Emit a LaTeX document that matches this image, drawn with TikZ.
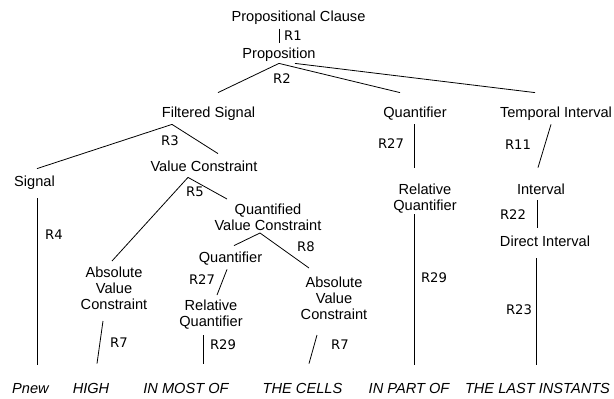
\documentclass[tikz,border=0pt]{standalone}
\usepackage{fontspec}
\setmainfont{Liberation Sans}
\newfontfamily\rulefont{DejaVu Sans}

\begin{document}
\begin{tikzpicture}[x=1pt, y=-1pt, line width=0.8pt,
    cat/.style={inner sep=0pt, text height=10.5pt, text depth=3pt, font=\fontsize{14.6}{16}\selectfont},
    cat2/.style={inner sep=0pt, align=center, font=\fontsize{14.6}{16}\selectfont},
    leaf/.style={cat, font=\fontsize{14.6}{16}\selectfont\itshape},
    rule/.style={inner sep=0pt, font=\rulefont\fontsize{13.2}{15}\selectfont}]
    \useasboundingbox (0,0) rectangle (614,399);
    % categories
    \node[cat] (pc) at (298.5,17.5) {Propositional Clause};
    \node[cat] (prop) at (279,54.5) {Proposition};
    \node[cat] (fsig) at (208.5,113.5) {Filtered Signal};
    \node[cat] (quant) at (415,113.5) {Quantifier};
    \node[cat] (tint) at (556,113.5) {Temporal Interval};
    \node[cat] (sig) at (34.5,182.5) {Signal};
    \node[cat] (vcon) at (204,168) {Value Constraint};
    \node[cat2] (rquant) at (425,199) {Relative\\Quantifier};
    \node[cat] (intv) at (541,191) {Interval};
    \node[cat2] (qvc) at (268,217) {Quantified\\Value Constraint};
    \node[cat] (dint) at (545,243) {Direct Interval};
    \node[cat] (quant2) at (230.5,258.5) {Quantifier};
    \node[cat2] (avc1) at (114,288) {Absolute\\Value\\Constraint};
    \node[cat2] (rquant2) at (211,315) {Relative\\Quantifier};
    \node[cat2] (avc2) at (334,298) {Absolute\\Value\\Constraint};
    % words
    \node[leaf] (pnew) at (30.5,389.5) {Pnew};
    \node[leaf] (high) at (91,389.5) {HIGH};
    \node[leaf] (most) at (186,389.5) {IN MOST OF};
    \node[leaf] (cells) at (302.5,389.5) {THE CELLS};
    \node[leaf] (part) at (409,389.5) {IN PART OF};
    \node[leaf] (last) at (537.5,389.5) {THE LAST INSTANTS};
    % rules
    \draw ([shift={(-19.5,4)}]pc.south) -- ([shift={(0,-4.5)}]prop.north);
    \draw ([shift={(0,1.75)}]prop.south) -- ([shift={(9.5,-13.75)}]fsig.north);
    \draw ([shift={(0,1.75)}]prop.south) -- ([shift={(-15,-13.75)}]quant.north);
    \draw ([shift={(16,1.75)}]prop.south) -- ([shift={(-21,-13.75)}]tint.north);
    \draw ([shift={(-36.5,3.75)}]fsig.south) -- ([shift={(2.5,-6.75)}]sig.north);
    \draw ([shift={(-36.5,3.75)}]fsig.south) -- ([shift={(14,-7.25)}]vcon.north);
    \draw ([shift={(-1,3.75)}]quant.south) -- ([shift={(-11,-31)}]rquant.center);
    \draw ([shift={(-5,3.75)}]tint.south) -- ([shift={(-3,-16.25)}]intv.north);
    \draw ([shift={(-16,2.25)}]vcon.south) -- ([shift={(-2,-27)}]avc1.center);
    \draw ([shift={(-16,2.25)}]vcon.south) -- ([shift={(-41,-18)}]qvc.center);
    \draw ([shift={(2.5,8.75)}]sig.south) -- ([shift={(6.5,-17.75)}]pnew.north);
    \draw ([shift={(-4,2.25)}]intv.south) -- ([shift={(-8,-8.25)}]dint.north);
    \draw ([shift={(-11,15)}]rquant.center) -- ([shift={(5,-17.75)}]part.north);
    \draw ([shift={(-9,8.25)}]dint.south) -- ([shift={(-1.5,-17.75)}]last.north);
    \draw ([shift={(-8,16)}]qvc.center) -- ([shift={(3.5,-5.75)}]quant2.north);
    \draw ([shift={(-8,16)}]qvc.center) -- ([shift={(-25,-30)}]avc2.center);
    \draw ([shift={(-3.5,3.75)}]quant2.south) -- ([shift={(6,-20)}]rquant2.center);
    \draw ([shift={(-11,33)}]avc1.center) -- ([shift={(6,-18.75)}]high.north);
    \draw ([shift={(-8,20)}]rquant2.center) -- ([shift={(17,-18.75)}]most.north);
    \draw ([shift={(-17,37)}]avc2.center) -- ([shift={(6.5,-18.75)}]cells.north);
    % rule labels
    \node[rule] (r1) at (293,36) {R1};
    \node[rule] (r2) at (282,79) {R2};
    \node[rule] (r3) at (170,141) {R3};
    \node[rule] (r27a) at (391,144) {R27};
    \node[rule] (r11) at (518,145) {R11};
    \node[rule] (r5) at (195,192) {R5};
    \node[rule] (r4) at (54,235) {R4};
    \node[rule] (r22) at (513,215) {R22};
    \node[rule] (r8) at (306,247) {R8};
    \node[rule] (r27b) at (202,280) {R27};
    \node[rule] (r29a) at (434,278) {R29};
    \node[rule] (r23) at (519,310) {R23};
    \node[rule] (r7a) at (119,343) {R7};
    \node[rule] (r29b) at (223,345) {R29};
    \node[rule] (r7b) at (340,345) {R7};
\end{tikzpicture}
\end{document}
